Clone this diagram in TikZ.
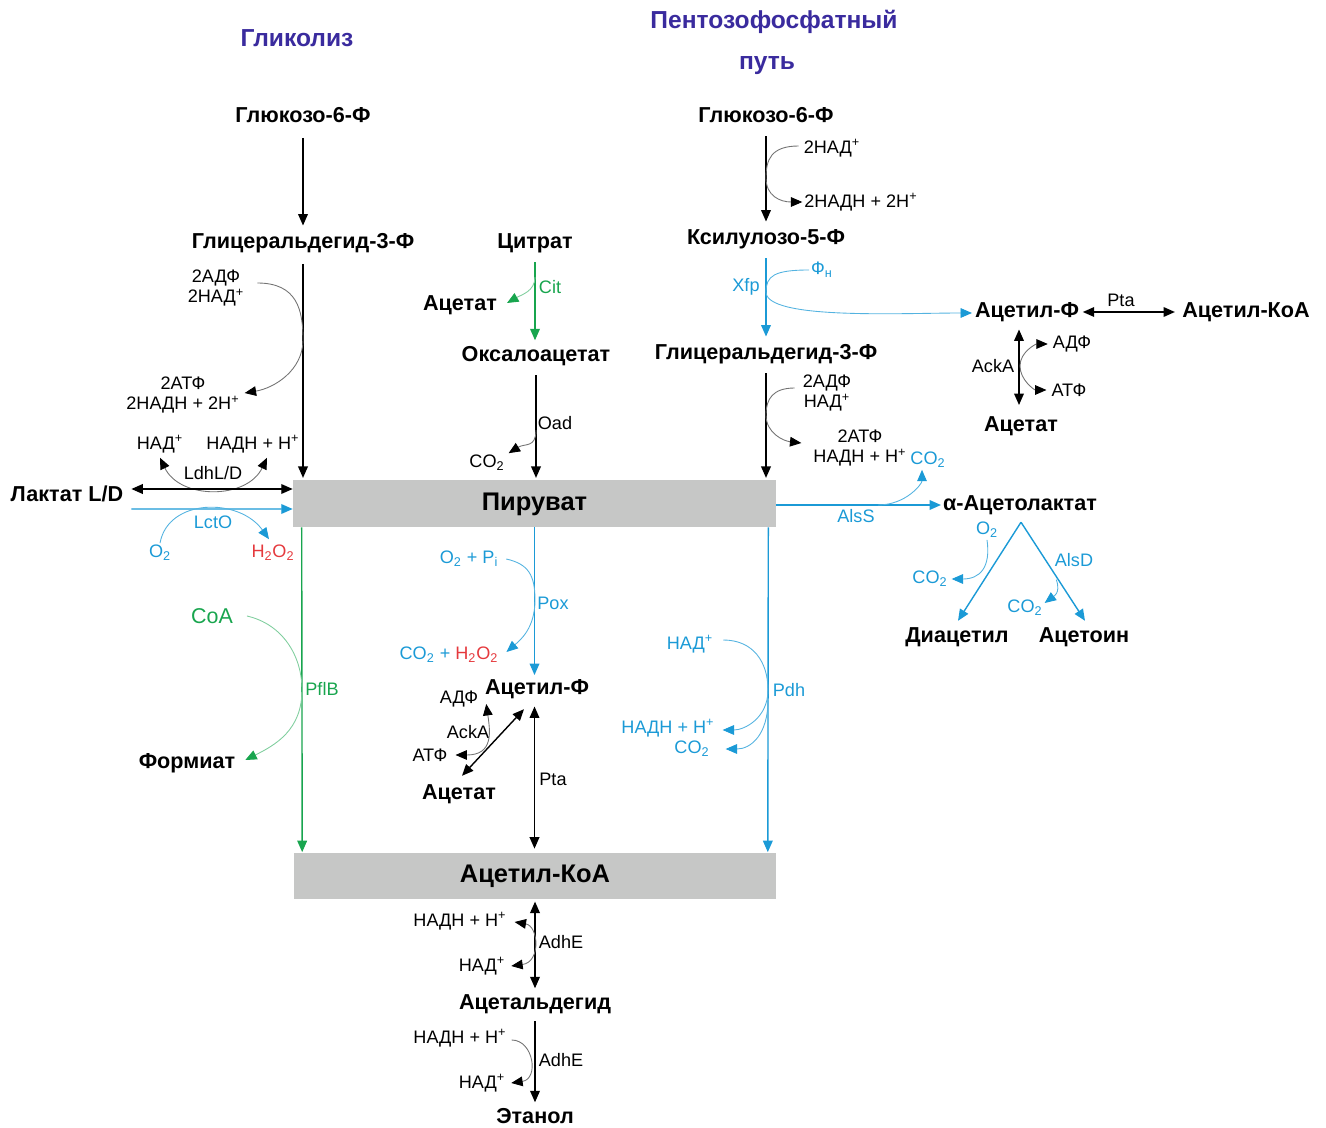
\documentclass[tikz,border=0pt]{standalone}
\usepackage{fontspec}
\setmainfont{Liberation Sans}
\usepackage{xcolor}
\usepackage{tikz}
\usetikzlibrary{calc,arrows.meta}
\definecolor{titleblue}{HTML}{3A2B9E}
\definecolor{pathblue}{HTML}{1B9AD6}
\definecolor{pathgreen}{HTML}{18A54E}
\definecolor{pathred}{HTML}{E5393D}
\definecolor{boxgray}{HTML}{C6C7C6}

\begin{document}
\begin{tikzpicture}[x=0.02cm,y=-0.02cm,>={Triangle[length=6.5pt,width=5.5pt]}]
  \tikzset{every node/.style={inner sep=1pt},
    met/.style={font=\fontsize{12.3}{14}\selectfont\bfseries,text height=9pt,text depth=2.5pt},
    sm/.style={font=\fontsize{10.3}{11.5}\selectfont,align=center},
    ttl/.style={font=\fontsize{14}{16}\selectfont\bfseries,text=titleblue,text height=10pt,text depth=3pt},
    pool/.style={font=\fontsize{14.5}{16}\selectfont\bfseries,text height=10.5pt,text depth=3pt,fill=boxgray,minimum width=9.66cm,minimum height=0.94cm},
    flow/.style={line width=0.8pt},
    side/.style={black!55,line width=0.5pt,>={Triangle[length=6.5pt,width=5.5pt,color=black]}},
    sideb/.style={pathblue!75,line width=0.5pt,>={Triangle[length=6.5pt,width=5.5pt,color=pathblue]}},
    sideg/.style={pathgreen!55,line width=0.5pt,>={Triangle[length=6.5pt,width=5.5pt,color=pathgreen]}}};
  \useasboundingbox (0,0) rectangle (1326,1128);

  \node[ttl] (glyc) at (297,40) {Гликолиз};
  \node[ttl] (ppp) at (774,22) {Пентозофосфатный};
  \node[ttl] (pppb) at (767,63) {путь};

  \node[met] (g6pL) at (303,117) {Глюкозо-6-Ф};
  \node[met] (gapL) at (303,243) {Глицеральдегид-3-Ф};
  \node[sm] (adpL) at (216,288) {2АДФ\\2НАД\textsuperscript{+}};
  \node[sm] (atpL) at (183,395) {2АТФ\\2НАДН + 2Н\textsuperscript{+}};
  \node[sm] (nadL) at (160,444) {НАД\textsuperscript{+}};
  \node[sm] (nadhL) at (253,444) {НАДН + Н\textsuperscript{+}};
  \node[sm] (ldh) at (213,473) {LdhL/D};
  \node[met] (lac) at (67,496) {Лактат L/D};
  \node[sm,text=pathblue] (lcto) at (213,522) {LctO};
  \node[sm,text=pathblue] (o2L) at (160,553) {O\textsubscript{2}};
  \node[sm,text=pathred] (h2o2L) at (273,553) {H\textsubscript{2}O\textsubscript{2}};

  \node[pool] (pyr) at (534.5,503.5) {Пируват};
  \node[pool] (accoa) at (535,876) {Ацетил-КоА};

  \node[font=\fontsize{12.2}{14}\selectfont,text=pathgreen] (coa) at (212,616) {CoA};
  \node[sm,text=pathgreen] (pflb) at (322,689) {PflB};
  \node[met] (form) at (187,763) {Формиат};

  \node[met] (cit) at (535,243) {Цитрат};
  \node[sm,text=pathgreen] (citl) at (550,287) {Cit};
  \node[met] (acetC) at (460,305) {Ацетат};
  \node[met] (oaa) at (536,356) {Оксалоацетат};
  \node[sm] (oad) at (555,423) {Oad};
  \node[sm] (co2O) at (487,463) {CO\textsubscript{2}};
  \node[sm,text=pathblue] (o2pi) at (469,559) {O\textsubscript{2} + P\textsubscript{i}};
  \node[sm,text=pathblue] (pox) at (553,603) {Pox};
  \node[sm,text=pathblue] (co2h) at (449,655) {CO\textsubscript{2} + \textcolor{pathred}{H\textsubscript{2}O\textsubscript{2}}};
  \node[met] (acpC) at (537,689) {Ацетил-Ф};
  \node[sm] (adpC) at (459,699) {АДФ};
  \node[sm] (ackC) at (468,732) {AckA};
  \node[sm] (atpC) at (430,755) {АТФ};
  \node[met] (acetD) at (459,794) {Ацетат};
  \node[sm] (ptaC) at (553,779) {Pta};

  \node[met] (g6pR) at (766,117) {Глюкозо-6-Ф};
  \node[sm] (nadR) at (832,148) {2НАД\textsuperscript{+}};
  \node[sm] (nadhR) at (861,202) {2НАДН + 2Н\textsuperscript{+}};
  \node[met] (xu5p) at (766,239) {Ксилулозо-5-Ф};
  \node[sm,text=pathblue] (xfp) at (746,287) {Xfp};
  \node[sm,text=pathblue] (pin) at (822,270) {Ф\textsubscript{н}};
  \node[met] (gapR) at (766,354) {Глицеральдегид-3-Ф};
  \node[sm] (adpR) at (827,393) {2АДФ\\НАД\textsuperscript{+}};
  \node[sm] (atpR) at (860,448) {2АТФ\\НАДН + Н\textsuperscript{+}};
  \node[sm,text=pathblue] (co2S) at (928,460) {CO\textsubscript{2}};
  \node[sm,text=pathblue] (alss) at (856,516) {AlsS};
  \node[met] (alac) at (1020,505) {α-Ацетолактат};
  \node[sm,text=pathblue] (nadP) at (690,644) {НАД\textsuperscript{+}};
  \node[sm,text=pathblue] (pdh) at (789,690) {Pdh};
  \node[sm,text=pathblue] (nadhP) at (668,728) {НАДН + Н\textsuperscript{+}};
  \node[sm,text=pathblue] (co2P) at (692,749) {CO\textsubscript{2}};

  \node[sm,text=pathblue] (o2A) at (987,530) {O\textsubscript{2}};
  \node[sm,text=pathblue] (co2A) at (930,579) {CO\textsubscript{2}};
  \node[sm,text=pathblue] (alsd) at (1074,560) {AlsD};
  \node[sm,text=pathblue] (co2D) at (1025,608) {CO\textsubscript{2}};
  \node[met] (diac) at (957,637) {Диацетил};
  \node[met] (actn) at (1084,637) {Ацетоин};

  \node[met] (acpR) at (1027,312) {Ацетил-Ф};
  \node[met] (accoaR) at (1246,312) {Ацетил-КоА};
  \node[sm] (ptaR) at (1121,300) {Pta};
  \node[sm] (ackR) at (993,366) {AckA};
  \node[sm] (adpA) at (1072,344) {АДФ};
  \node[sm] (atpA) at (1069,390) {АТФ};
  \node[met] (acetR) at (1021,426) {Ацетат};

  \node[sm] (nadhE) at (460,921) {НАДН + Н\textsuperscript{+}};
  \node[sm] (adhE) at (561,942) {AdhE};
  \node[sm] (nadE) at (482,966) {НАД\textsuperscript{+}};
  \node[met] (acald) at (535,1004) {Ацетальдегид};
  \node[sm] (nadhF) at (460,1038) {НАДН + Н\textsuperscript{+}};
  \node[sm] (adhF) at (561,1060) {AdhE};
  \node[sm] (nadF) at (482,1083) {НАД\textsuperscript{+}};
  \node[met] (etoh) at (535,1118) {Этанол};

  \coordinate (alsbr) at (878,505);
  \coordinate (apex) at ($(alac.south)+(1,5)$);
  \coordinate (alsdbr) at ($(apex)!0.56!(actn.north)$);
  \coordinate (ackbr) at (1020,366);
  \coordinate (pdhbr) at (768,700);

  \draw[flow,->,shorten <=5pt,shorten >=3pt] (g6pL) -- (gapL);
  \draw[flow,->,shorten <=5pt,shorten >=1pt] (gapL) -- (gapL |- pyr.north);
  \draw[side,->] ($(adpL.east)+(11,-5)$) .. controls +(40,0) and +(0,-30) .. (303,340) .. controls +(0,30) and +(30,-5) .. ($(atpL.east)+(3,-2)$);
  \draw[side,<->] ($(nadL.south)+(0,3)$) .. controls +(20,42) and +(-20,42) .. ($(nadhL.south)+(14,3)$);
  \draw[flow,<->] ($(lac.east)+(6,-7)$) -- ($(pyr.west)+(0,-14.5)$);
  \draw[flow,->,pathblue] ($(lac.east)+(6,13)$) -- ($(pyr.west)+(0,5.5)$);
  \draw[sideb,->] (o2L.north) .. controls +(8,-45) and +(-30,-42) .. ($(h2o2L.north)+(-4,-4)$);

  \draw[flow,->,pathgreen] ($(pyr.south west)+(9,0)$) -- ($(accoa.north west)+(9,0)$);
  \draw[sideg,->] ($(coa.east)+(12,0)$) .. controls +(35,8) and +(0,-35) .. (302,690) .. controls +(0,40) and +(30,-15) .. ($(form.east)+(8,-3)$);

  \draw[flow,->,pathgreen,shorten <=4pt,shorten >=2pt] (cit) -- (cit |- oaa.north);
  \draw[sideg,->] ($(cit.south)+(0,22)$) .. controls +(0,14) and +(14,-8) .. ($(acetC.east)+(8,-2)$);
  \draw[flow,->,shorten <=4pt,shorten >=1pt] (oaa) -- (oaa |- pyr.north);
  \draw[side,->] ($(oaa.south)+(0,62)$) .. controls +(0,18) and +(16,-10) .. ($(co2O.north east)+(2,0)$);

  \draw[flow,->,pathblue,shorten >=1pt] (pyr.south) -- (pyr.south |- acpC.north);
  \draw[sideb,->] ($(o2pi.east)+(6,0)$) .. controls +(22,5) and +(0,-25) .. (535,600) .. controls +(0,28) and +(14,-12) .. ($(co2h.east)+(6,-3)$);
  \draw[flow,<->,shorten <=3pt,shorten >=2pt] (acpC.south -| pyr.south) -- (pyr.south |- accoa.north);
  \draw[flow,<->] ($(acpC.south)+(-13,8)$) -- ($(acetD.north)+(3,-6)$);
  \draw[side,<->] ($(atpC.east)+(6,0)$) .. controls +(38,0) and +(4,28) .. ($(adpC.east)+(6,5)$);

  \draw[flow,->,shorten <=4pt,shorten >=3pt] (g6pR) -- (xu5p);
  \draw[side,->] ($(nadR.west)+(-3,-2)$) .. controls +(-28,0) and +(0,-18) .. (766,178) .. controls +(0,18) and +(-22,0) .. (nadhR.west);
  \draw[flow,->,pathblue,shorten <=4pt,shorten >=3pt] (xu5p) -- (gapR);
  \draw[sideb,->] (pin.west) .. controls +(-35,0) and +(0,-16) .. (766,292) .. controls +(0,28) and +(-70,0) .. ($(acpR.west)+(-1,1)$);
  \draw[flow,->,shorten <=4pt,shorten >=1pt] (gapR) -- (gapR |- pyr.north);
  \draw[side,->] ($(adpR.west)+(-6,-5)$) .. controls +(-22,0) and +(0,-16) .. (766,415) .. controls +(0,18) and +(-18,-2) .. ($(atpR.west)+(-10,-5)$);

  \draw[flow,->,pathblue] ($(pyr.south east)+(-8,0)$) -- ($(accoa.north east)+(-9,0)$);
  \draw[sideb,->] ($(nadP.east)+(8,-4)$) .. controls +(30,0) and +(0,-28) .. (768,690) .. controls +(0,28) and +(22,0) .. ($(nadhP.east)+(6,2)$);
  \draw[sideb,->] (pdhbr) .. controls +(0,35) and +(25,0) .. ($(co2P.east)+(14,0)$);

  \draw[flow,->,pathblue] (pyr.east |- alac) -- (alac.west);
  \draw[sideb,->] (alsbr) .. controls +(28,0) and +(0,14) .. ($(co2S.south)+(-6,0)$);
  \draw[flow,->,pathblue] (apex) -- ($(diac.north)+(1,-4)$);
  \draw[flow,->,pathblue] (apex) -- ($(actn.north)+(1,-4)$);
  \draw[sideb,->] (o2A.south) .. controls +(4,28) and +(28,0) .. ($(co2A.east)+(2,0)$);
  \draw[sideb,->] (alsdbr) .. controls +(5,14) and +(8,-6) .. ($(co2D.east)+(0,-5)$);

  \draw[flow,<->,shorten <=1pt,shorten >=3pt] (acpR) -- (accoaR);
  \draw[flow,<->,shorten <=3pt,shorten >=5pt] ($(acpR.south)+(-8,0)$) -- ($(acetR.north)+(-2,0)$);
  \draw[side,->] (ackbr) .. controls +(0,-14) and +(-12,0) .. ($(adpA.west)+(-3,0)$);
  \draw[side,->] (ackbr) .. controls +(0,14) and +(-12,0) .. ($(atpA.west)+(-3,0)$);

  \draw[flow,<->,shorten <=1pt,shorten >=2pt] (accoa.south) -- (acald);
  \draw[side,<->] ($(nadhE.east)+(6,1)$) .. controls +(24,4) and +(30,-4) .. ($(nadE.east)+(4,0)$);
  \draw[flow,->,shorten <=3pt,shorten >=2pt] (acald) -- (etoh);
  \draw[side,->] ($(nadhF.east)+(3,2)$) .. controls +(22,0) and +(28,-4) .. ($(nadF.east)+(4,0)$);
\end{tikzpicture}
\end{document}
